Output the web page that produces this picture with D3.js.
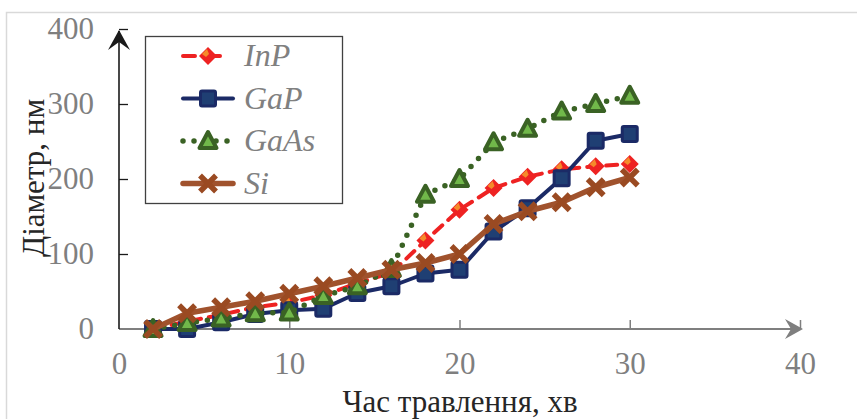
<!DOCTYPE html>
<html>
<head>
<meta charset="utf-8">
<script src="https://cdn.jsdelivr.net/npm/d3@7/dist/d3.min.js"></script>
<style>
  html, body { margin: 0; padding: 0; background: #fff; }
  svg { display: block; }
</style>
</head>
<body>
<svg id="chart" width="857" height="419"></svg>
<script>
// Etching time, minutes
const times = [2, 4, 6, 8, 10, 12, 14, 16, 18, 20, 22, 24, 26, 28, 30];
// Diameter, nm
const inp  = [0, 10, 19, 29, 35, 45, 61, 75, 118, 159, 188, 203, 213, 217, 220];
const gap  = [0, 0, 9, 20, 25, 27, 48, 57, 74, 79, 130, 161, 201, 251, 260];
const gaas = [0, 8, 14, 21, 22, 44, 57, 80, 179, 200, 249, 267, 290, 300, 311];
const si   = [0, 21, 29, 37, 47, 57, 68, 79, 88, 100, 140, 157, 169, 189, 202];

const seriesNames = ["InP", "GaP", "GaAs", "Si"];
const xTicks = [0, 10, 20, 30, 40];
const yTicks = [0, 100, 200, 300, 400];

const svg = d3.select("#chart");
const serif = "'Liberation Serif', 'Times New Roman', serif";
const fs = 31;

// Outer frame
svg.append("path")
  .attr("d", "M6.5,419 V12.5 H857")
  .attr("fill", "none").attr("stroke", "#d9d9d9").attr("stroke-width", 1.5);

const x = d3.scaleLinear().domain([0, 40]).range([119, 800]);
const y = d3.scaleLinear().domain([0, 400]).range([329, 29]);

// X axis (gray, with arrow)
const xAxis = svg.append("g").attr("transform", `translate(0,${y(0)})`)
  .call(d3.axisBottom(x).tickValues(xTicks).tickSize(0).tickPadding(23))
  .call(g => g.select(".domain").remove());
xAxis.selectAll("text")
  .attr("font-family", serif).attr("font-size", fs).attr("fill", "#7f7f7f");
xAxis.append("line").attr("x1", x(0)).attr("x2", x(40) - 4)
  .attr("stroke", "#7f7f7f").attr("stroke-width", 2);
xAxis.selectAll(".tick").filter(d => d > 0).append("line")
  .attr("y1", 0).attr("y2", -9).attr("stroke", "#7f7f7f").attr("stroke-width", 1.5);
xAxis.append("path")
  .attr("d", `M${x(40) + 3},0 L${x(40) - 15},-10 L${x(40) - 9},0 L${x(40) - 15},10 Z`)
  .attr("fill", "#7f7f7f");

// Y axis (black, with arrow)
const yAxis = svg.append("g").attr("transform", `translate(${x(0)},0)`)
  .call(d3.axisLeft(y).tickValues(yTicks).tickSize(0).tickPadding(25))
  .call(g => g.select(".domain").remove());
yAxis.selectAll("text")
  .attr("font-family", serif).attr("font-size", fs).attr("fill", "#7f7f7f");
yAxis.append("line").attr("y1", y(0)).attr("y2", y(400) + 2)
  .attr("stroke", "#1a1a1a").attr("stroke-width", 1.6);
yAxis.selectAll(".tick").filter(d => d > 0).append("line")
  .attr("x1", 0).attr("x2", 9).attr("stroke", "#1a1a1a").attr("stroke-width", 1.3);
yAxis.append("path")
  .attr("d", `M0,${y(400) + 1} L-11,${y(400) + 21} L0,${y(400) + 13} L11,${y(400) + 21} Z`)
  .attr("fill", "#1a1a1a");

// Axis titles
svg.append("text")
  .attr("x", 460).attr("y", 412).attr("text-anchor", "middle")
  .attr("font-family", serif).attr("font-size", fs).attr("fill", "#262626")
  .text("Час травлення, хв");
svg.append("text")
  .attr("transform", "translate(44,178) rotate(-90)").attr("text-anchor", "middle")
  .attr("font-family", serif).attr("font-size", fs).attr("fill", "#262626")
  .text("Діаметр, нм");

// Marker painters
const markers = {
  InP: (g) => {
    g.append("path").attr("d", "M0,-9 L9,0 L0,9 L-9,0 Z").attr("fill", "#ee2222");
    g.append("path").attr("d", "M-6,-2 L-1,-7 L1,-2 L-2,1 Z").attr("fill", "#f58a2a");
  },
  GaP: (g) => {
    g.append("rect").attr("x", -7.5).attr("y", -7.5).attr("width", 15).attr("height", 15)
      .attr("rx", 1.5).attr("fill", "#1f3f73").attr("stroke", "#1b2a66").attr("stroke-width", 3);
  },
  GaAs: (g) => {
    g.append("path").attr("d", "M0,-9 L8.5,7 L-8.5,7 Z")
      .attr("fill", "#71b84a").attr("stroke", "#3a6224").attr("stroke-width", 4)
      .attr("stroke-linejoin", "round");
  },
  Si: (g) => {
    g.append("path").attr("d", "M-8,-8 L8,8 M8,-8 L-8,8")
      .attr("stroke", "#9a4a22").attr("stroke-width", 5.5);
  }
};

const styles = {
  InP:  { color: "#ee2222", width: 4, dash: "11,8" },
  GaP:  { color: "#1b2a66", width: 4, dash: null },
  GaAs: { color: "#3a6224", width: 5.5, dash: "0,11" },
  Si:   { color: "#a0522d", width: 5.5, dash: null }
};

const dataBy = { InP: inp, GaP: gap, GaAs: gaas, Si: si };
const line = d3.line().x(d => x(d[0])).y(d => y(d[1]));

seriesNames.forEach(name => {
  const vals = dataBy[name];
  const pts = times.map((t, i) => [t, vals[i]]);
  const st = styles[name];
  svg.append("path").datum(pts).attr("d", line)
    .attr("fill", "none").attr("stroke", st.color).attr("stroke-width", st.width)
    .attr("stroke-linecap", "round").attr("stroke-linejoin", "round")
    .attr("stroke-dasharray", st.dash);
  pts.forEach(p => {
    const g = svg.append("g").attr("transform", `translate(${x(p[0])},${y(p[1])})`);
    markers[name](g);
  });
});

// Legend
const legend = svg.append("g");
legend.append("rect").attr("x", 145.5).attr("y", 36.5).attr("width", 197).attr("height", 167)
  .attr("fill", "#fff").attr("stroke", "#404040").attr("stroke-width", 1.3);
seriesNames.forEach((name, i) => {
  const cy = 56 + i * 42.5;
  const st = styles[name];
  legend.append("line").attr("x1", 183).attr("x2", 233).attr("y1", cy).attr("y2", cy)
    .attr("stroke", st.color).attr("stroke-width", st.width)
    .attr("stroke-linecap", "round")
    .attr("stroke-dasharray", name === "InP" ? "12,13" : (name === "GaAs" ? "0,11" : null));
  const g = legend.append("g").attr("transform", `translate(208,${cy})`);
  markers[name](g);
  legend.append("text").attr("x", 244).attr("y", cy + 10)
    .attr("font-family", serif).attr("font-style", "italic").attr("font-size", 32)
    .attr("fill", "#808080").text(name);
});
</script>
</body>
</html>
